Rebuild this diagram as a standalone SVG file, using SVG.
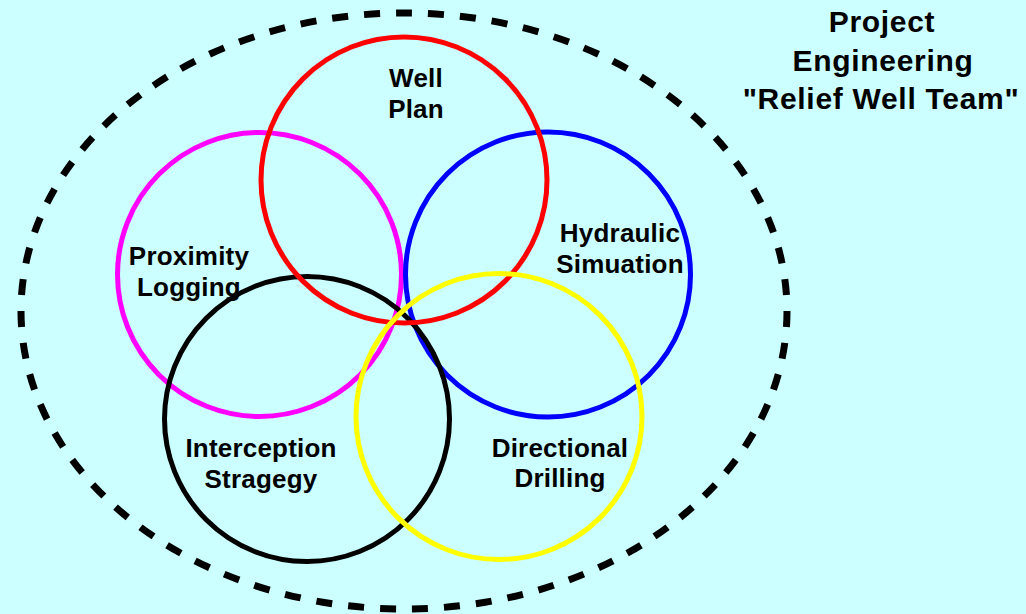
<svg xmlns="http://www.w3.org/2000/svg" width="1026" height="614" viewBox="0 0 1026 614">
  <style>
    .ring { fill: none; stroke-width: 5; }
    .label { font-family: "Liberation Sans", Arial, sans-serif; font-weight: bold; font-size: 26px; fill: #000; text-anchor: middle; letter-spacing: 0.2px; }
    .title { font-family: "Liberation Sans", Arial, sans-serif; font-weight: bold; font-size: 30px; fill: #000; text-anchor: middle; letter-spacing: 0.7px; }
  </style>
  <rect width="1026" height="614" fill="#CCFFFF"/>

  <!-- team boundary -->
  <g id="team-boundary">
    <ellipse cx="404" cy="311" rx="383" ry="298" fill="none" stroke="#000" stroke-width="7" stroke-dasharray="16 16" pathLength="2144"/>
  </g>

  <g id="title">
    <text class="title" x="882" y="32">Project</text>
    <text class="title" x="883" y="71">Engineering</text>
    <text class="title" x="881" y="109">"Relief Well Team"</text>
  </g>

  <!-- discipline rings -->
  <g id="proximity-logging">
    <circle class="ring" cx="259.5" cy="274.5" r="142" stroke="#FF00FF"/>
    <text class="label" x="189" y="265">Proximity</text>
    <text class="label" x="189" y="296">Logging</text>
  </g>
  <g id="hydraulic-simulation">
    <circle class="ring" cx="548" cy="274.5" r="142.5" stroke="#0000FF"/>
    <text class="label" x="620" y="242">Hydraulic</text>
    <text class="label" x="620" y="273">Simuation</text>
  </g>
  <g id="interception-strategy">
    <circle class="ring" cx="307" cy="419" r="142.5" stroke="#000000"/>
    <text class="label" x="261" y="457">Interception</text>
    <text class="label" x="261" y="488">Stragegy</text>
  </g>
  <g id="well-plan">
    <circle class="ring" cx="404" cy="180" r="143" stroke="#FF0000"/>
    <text class="label" x="416" y="87">Well</text>
    <text class="label" x="416" y="118">Plan</text>
  </g>
  <g id="directional-drilling">
    <circle class="ring" cx="499" cy="416.5" r="143" stroke="#FFFF00"/>
    <text class="label" x="560" y="457">Directional</text>
    <text class="label" x="560" y="487">Drilling</text>
  </g>

  <!-- no connectors in this diagram -->
  <g id="connectors"/>
</svg>
